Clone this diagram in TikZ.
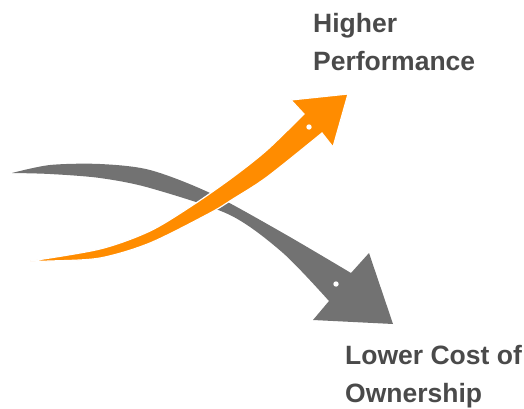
\documentclass[tikz,border=0pt]{standalone}
\usepackage{fontspec}
\setmainfont{Liberation Sans}
\definecolor{setalaranja}{HTML}{FF8C00}
\definecolor{setacinza}{HTML}{727272}
\definecolor{textocinza}{HTML}{4A4A4A}
\tikzset{
  rotulo/.style={anchor=base west, inner sep=0pt, align=left, text=textocinza,
    font=\fontsize{26.5}{37.5}\selectfont\bfseries},
  furo/.style={fill=white}
}
\begin{document}
\begin{tikzpicture}[x=1pt,y=-1pt]  %Inicio Grafico, 1 unidade = 1 pixel
	\useasboundingbox (0,0) rectangle (524,408); %Margens
		%Seta cinza (custo)
	\fill[setacinza] plot[smooth] coordinates {(12,173) (50,165) (100,164) (150,170) (210,193) (283,233) (351,273)}
		-- (369,253) -- (393,324) -- (313,320) -- (329,301) %Ponta da seta
		-- plot[smooth] coordinates {(329,301) (283,253) (230,215) (150,188) (100,178) (50,174) (12,173)} -- cycle;
	\fill[furo] (336,284) circle (2.7); %Ponto branco
		%Seta laranja (desempenho)
	\filldraw[setalaranja, draw=white, line width=1.2pt] plot[smooth] coordinates {(30,261) (100,249) (150,231) (193,205) (233,177) (267,150) (304,114)}
		-- (291,100) -- (348,94) -- (333,147) -- (322,133) %Ponta da seta
		-- plot[smooth] coordinates {(322,133) (267,177) (233,199) (210,213) (150,243) (100,258) (50,261) (30,261)} -- cycle;
	\fill[furo] (309,127) circle (2.7); %Ponto branco
		%Rotulos (ancora na linha de base da ultima linha)
	\node[rotulo] (perf) at (313,70) {Higher\\Performance};
	\node[rotulo] (cost) at (345,402) {Lower Cost of\\Ownership};
\end{tikzpicture}
\end{document}
